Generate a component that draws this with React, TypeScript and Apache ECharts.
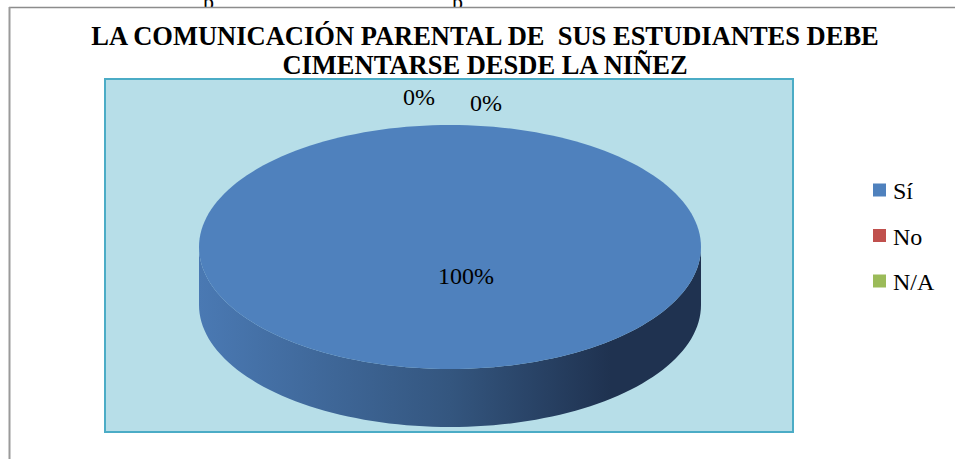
import React, { useEffect, useRef } from "react";
import * as echarts from "echarts";

const categories = ["Sí", "No", "N/A"];
const values = [100, 0, 0];
const percentLabels = ["100%", "0%", "0%"];
const titleLines = ["LA COMUNICACIÓN PARENTAL DE  SUS ESTUDIANTES DEBE", "CIMENTARSE DESDE LA NIÑEZ"];

// style constants
const COLORS = ["#4f81bd", "#c0504d", "#9bbb59"];
const SIDE_STOPS = [
  ["#4a79b3", "#34567f", "#1f3250"],
  ["#b04a47", "#7d3331", "#552220"],
  ["#8ead52", "#66803a", "#465a27"],
];
const CX = 450;
const CY = 247;
const RX = 251;
const RY = 122;
const DEPTH = 58;
const LABEL_OFFSETS = [
  [16, 29],
  [-31, -150],
  [36, -144],
];
const SERIF = "Liberation Serif";

function pt(deg: number, dy = 0): number[] {
  const r = (deg * Math.PI) / 180;
  return [CX + RX * Math.sin(r), CY - RY * Math.cos(r) + dy];
}

function arcPoints(a0: number, a1: number, dy = 0): number[][] {
  const pts: number[][] = [];
  const n = Math.max(2, Math.ceil(Math.abs(a1 - a0) / 2));
  for (let i = 0; i <= n; i++) pts.push(pt(a0 + ((a1 - a0) * i) / n, dy));
  return pts;
}

export default function App() {
  const ref = useRef<HTMLDivElement>(null);
  useEffect(() => {
    if (!ref.current) return;
    const chart = echarts.init(ref.current, null, { renderer: "svg" });
    const total = values.reduce((a, b) => a + b, 0);
    const starts: number[] = [];
    let acc = 0;
    values.forEach((v) => {
      starts.push((acc / total) * 360);
      acc += v;
    });

    const legendGraphics: any[] = [];
    categories.forEach((c, i) => {
      const yc = 190 + i * 45.5;
      legendGraphics.push({
        type: "rect",
        shape: { x: 873, y: yc - 6.5, width: 13, height: 13 },
        style: { fill: COLORS[i] },
      });
      legendGraphics.push({
        type: "text",
        x: 893,
        y: yc + 1,
        style: {
          text: c,
          fontFamily: SERIF,
          fontSize: 24,
          fill: "#000",
          verticalAlign: "middle",
          align: "left",
        },
      });
    });

    chart.setOption({
      animation: false,
      backgroundColor: "#ffffff",
      graphic: [
        { type: "text", x: 203, y: 12, z: -5, style: { text: "p", fontFamily: SERIF, fontSize: 22, fill: "#000", verticalAlign: "bottom" } },
        { type: "text", x: 452, y: 12, z: -5, style: { text: "p", fontFamily: SERIF, fontSize: 22, fill: "#000", verticalAlign: "bottom" } },
        { type: "rect", z: -4, shape: { x: 10, y: 8, width: 945, height: 12 }, style: { fill: "#fff" } },
        { type: "line", shape: { x1: 9, y1: 7.5, x2: 955, y2: 7.5 }, style: { stroke: "#8c8c8c", lineWidth: 1.5 } },
        { type: "line", shape: { x1: 9.5, y1: 7, x2: 9.5, y2: 459 }, style: { stroke: "#9a9a9a", lineWidth: 2 } },
        {
          type: "rect",
          z: -1,
          shape: { x: 105, y: 79, width: 688, height: 353 },
          style: { fill: "#b7dee8", stroke: "#4bacc6", lineWidth: 2 },
        },
        {
          type: "text",
          x: 485,
          y: 21,
          style: {
            text: titleLines.join("\n"),
            fontFamily: SERIF,
            fontWeight: "bold",
            fontSize: 26.5,
            lineHeight: 29,
            fill: "#000",
            align: "center",
            verticalAlign: "top",
          },
        },
        ...legendGraphics,
      ],
      series: [
        {
          type: "custom",
          coordinateSystem: "none",
          data: values.map((v, i) => ({ value: v, name: categories[i] })),
          renderItem: (params: any, api: any) => {
            const i = params.dataIndex;
            const v = api.value(0);
            const a0 = starts[i];
            const a1 = a0 + (v / total) * 360;
            const children: any[] = [];
            if (v > 0) {
              const s0 = Math.max(a0, 90);
              const s1 = Math.min(a1, 270);
              if (s1 > s0) {
                const top = arcPoints(s0, s1, 0);
                const bottom = arcPoints(s1, s0, DEPTH);
                children.push({
                  type: "polygon",
                  shape: { points: top.concat(bottom) },
                  style: {
                    fill: {
                      type: "linear",
                      x: 0,
                      y: 0,
                      x2: 1,
                      y2: 0,
                      colorStops: [
                        { offset: 0, color: SIDE_STOPS[i][0] },
                        { offset: 0.5, color: SIDE_STOPS[i][1] },
                        { offset: 0.82, color: SIDE_STOPS[i][2] },
                        { offset: 1, color: SIDE_STOPS[i][2] },
                      ],
                    },
                  },
                });
              }
              const full = a1 - a0 >= 359.999;
              const pts = full ? arcPoints(a0, a1, 0) : [[CX, CY]].concat(arcPoints(a0, a1, 0));
              children.push({ type: "polygon", shape: { points: pts }, style: { fill: COLORS[i] } });
            }
            children.push({
              type: "text",
              x: CX + LABEL_OFFSETS[i][0],
              y: CY + LABEL_OFFSETS[i][1],
              style: {
                text: percentLabels[i],
                fontFamily: SERIF,
                fontSize: 24,
                fill: "#000",
                align: "center",
                verticalAlign: "middle",
              },
            });
            return { type: "group", children };
          },
        },
      ],
    });
    return () => chart.dispose();
  }, []);
  return <div ref={ref} style={{ position: "fixed", left: 0, top: 0, width: 955, height: 459 }} />;
}
